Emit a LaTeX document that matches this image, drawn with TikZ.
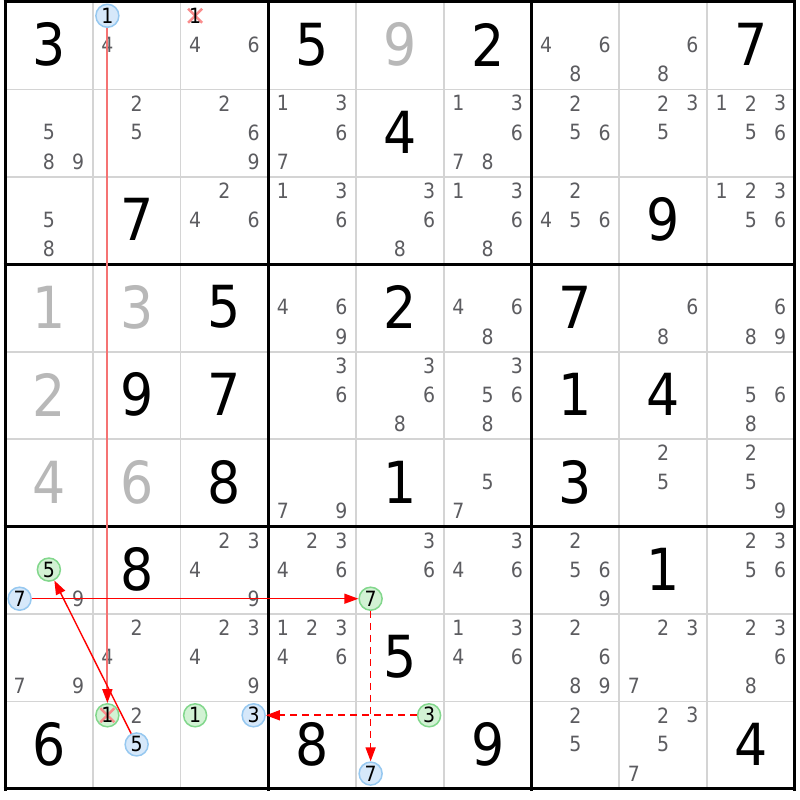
\documentclass[tikz,border=0pt]{standalone}
\usepackage{fontspec}
\setmainfont{DejaVu Sans Condensed}
\usetikzlibrary{arrows.meta}
\definecolor{candc}{RGB}{92,92,96}
\definecolor{givengray}{RGB}{184,184,184}
\definecolor{thingray}{RGB}{212,212,212}
\definecolor{bluefill}{RGB}{214,232,250}
\definecolor{bluedraw}{RGB}{150,200,240}
\definecolor{greenfill}{RGB}{210,242,212}
\definecolor{greendraw}{RGB}{130,215,140}
\definecolor{crossred}{RGB}{250,140,140}
\definecolor{linkred}{RGB}{255,0,0}
\definecolor{softred}{RGB}{245,115,115}
\tikzset{
  candtext/.style={font=\fontsize{21}{21}\selectfont, text=candc, inner sep=0pt},
  givenk/.style={font=\fontsize{58}{58}\selectfont, text=black, inner sep=0pt},
  giveng/.style={givenk, text=givengray},
  ring/.style={circle, line width=1.5pt, minimum size=23pt, inner sep=0pt,
    font=\fontsize{21}{21}\selectfont, text=black},
  bluec/.style={ring, draw=bluedraw, fill=bluefill},
  greenc/.style={ring, draw=greendraw, fill=greenfill},
  crossmark/.style={draw=crossred, line width=2.5pt},
  greenx/.style={greenc, path picture={
    \draw[crossmark] ([shift={(-7,-7)}]path picture bounding box.center) -- ([shift={(7,7)}]path picture bounding box.center);
    \draw[crossmark] ([shift={(-7,7)}]path picture bounding box.center) -- ([shift={(7,-7)}]path picture bounding box.center);}},
  thinl/.style={draw=thingray, line width=1.6pt},
  thickl/.style={draw=black, line width=3pt},
  link/.style={color=linkred, line width=1.4pt, -{Triangle[length=14pt,width=10pt,color=linkred]}},
  softlink/.style={link, color=softred, line width=2pt},
  weaklink/.style={link, line width=1.7pt, dash pattern=on 7pt off 5pt}
}
\newcommand\gv[4]{\node[#4] (g#1#2) at ({5+(#2-0.5)*87.75},{2+(#1-0.5)*87.44-1}) {#3};}
\newcommand\cpos[3]{%
  \pgfmathsetmacro\cpx{5+(#2-1)*87.75+(mod(#3-1,3)+0.5)*29.25}%
  \pgfmathsetmacro\cpy{2+(#1-1)*87.44+(floor((#3-1)/3)+0.5)*29.147-0.8}}
\newcommand\cands[3]{\foreach \dd in {#3}{\cpos{#1}{#2}{\dd}\node[candtext] (n#1#2\dd) at (\cpx,\cpy) {\dd};}}
\newcommand\ccand[4]{\cpos{#1}{#2}{#3}\node[#4] (n#1#2#3) at (\cpx,\cpy) {#3};}
\begin{document}
\begin{tikzpicture}[x=1pt,y=-1pt]
\useasboundingbox (0,0) rectangle (800,800);
\fill[white] (0,0) rectangle (800,800);
% grid
\foreach \i in {1,2,4,5,7,8}{
  \draw[thinl] ({5+\i*87.75},2) -- ({5+\i*87.75},789);
  \draw[thinl] (5,{2+\i*87.44}) -- (794.75,{2+\i*87.44});
}
\foreach \i in {0,3,6,9}{
  \draw[thickl] ({5+\i*87.75},0.5) -- ({5+\i*87.75},790.5);
  \draw[thickl] (3.5,{2+\i*87.44}) -- (796.25,{2+\i*87.44});
}
% givens
\gv{1}{1}{3}{givenk}\gv{1}{4}{5}{givenk}\gv{1}{5}{9}{giveng}\gv{1}{6}{2}{givenk}\gv{1}{9}{7}{givenk}
\gv{2}{5}{4}{givenk}
\gv{3}{2}{7}{givenk}\gv{3}{8}{9}{givenk}
\gv{4}{1}{1}{giveng}\gv{4}{2}{3}{giveng}\gv{4}{3}{5}{givenk}\gv{4}{5}{2}{givenk}\gv{4}{7}{7}{givenk}
\gv{5}{1}{2}{giveng}\gv{5}{2}{9}{givenk}\gv{5}{3}{7}{givenk}\gv{5}{7}{1}{givenk}\gv{5}{8}{4}{givenk}
\gv{6}{1}{4}{giveng}\gv{6}{2}{6}{giveng}\gv{6}{3}{8}{givenk}\gv{6}{5}{1}{givenk}\gv{6}{7}{3}{givenk}
\gv{7}{2}{8}{givenk}\gv{7}{8}{1}{givenk}
\gv{8}{5}{5}{givenk}
\gv{9}{1}{6}{givenk}\gv{9}{4}{8}{givenk}\gv{9}{6}{9}{givenk}\gv{9}{9}{4}{givenk}
% candidates
\cands{1}{2}{4}
\cands{1}{3}{4,6}
\cands{1}{7}{4,6,8}
\cands{1}{8}{6,8}
\cands{2}{1}{5,8,9}
\cands{2}{2}{2,5}
\cands{2}{3}{2,6,9}
\cands{2}{4}{1,3,6,7}
\cands{2}{6}{1,3,6,7,8}
\cands{2}{7}{2,5,6}
\cands{2}{8}{2,3,5}
\cands{2}{9}{1,2,3,5,6}
\cands{3}{1}{5,8}
\cands{3}{3}{2,4,6}
\cands{3}{4}{1,3,6}
\cands{3}{5}{3,6,8}
\cands{3}{6}{1,3,6,8}
\cands{3}{7}{2,4,5,6}
\cands{3}{9}{1,2,3,5,6}
\cands{4}{4}{4,6,9}
\cands{4}{6}{4,6,8}
\cands{4}{8}{6,8}
\cands{4}{9}{6,8,9}
\cands{5}{4}{3,6}
\cands{5}{5}{3,6,8}
\cands{5}{6}{3,5,6,8}
\cands{5}{9}{5,6,8}
\cands{6}{4}{7,9}
\cands{6}{6}{5,7}
\cands{6}{8}{2,5}
\cands{6}{9}{2,5,9}
\cands{7}{1}{9}
\cands{7}{3}{2,3,4,9}
\cands{7}{4}{2,3,4,6}
\cands{7}{5}{3,6}
\cands{7}{6}{3,4,6}
\cands{7}{7}{2,5,6,9}
\cands{7}{9}{2,3,5,6}
\cands{8}{1}{7,9}
\cands{8}{2}{2,4}
\cands{8}{3}{2,3,4,9}
\cands{8}{4}{1,2,3,4,6}
\cands{8}{6}{1,3,4,6}
\cands{8}{7}{2,6,8,9}
\cands{8}{8}{2,3,7}
\cands{8}{9}{2,3,6,8}
\cands{9}{2}{2}
\cands{9}{7}{2,5}
\cands{9}{8}{2,3,5,7}
% crossed plain candidate
\cpos{1}{3}{1}
\draw[crossmark] (\cpx-7,\cpy-7) -- (\cpx+7,\cpy+7);
\draw[crossmark] (\cpx-7,\cpy+7) -- (\cpx+7,\cpy-7);
\node[candtext, text=black] (n131) at (\cpx,\cpy) {1};
% circled candidates
\ccand{1}{2}{1}{bluec}
\ccand{7}{1}{5}{greenc}
\ccand{7}{1}{7}{bluec}
\ccand{7}{5}{7}{greenc}
\ccand{9}{2}{1}{greenx}
\ccand{9}{2}{5}{bluec}
\ccand{9}{3}{1}{greenc}
\ccand{9}{3}{3}{bluec}
\ccand{9}{5}{3}{greenc}
\ccand{9}{5}{7}{bluec}
% links
\draw[softlink] (n121) -- (n921);
\draw[link] (n717) -- (n757);
\draw[link] (n925) -- (n715);
\draw[weaklink] (n757) -- (n957);
\draw[weaklink] (n953) -- (n933);
\end{tikzpicture}
\end{document}
